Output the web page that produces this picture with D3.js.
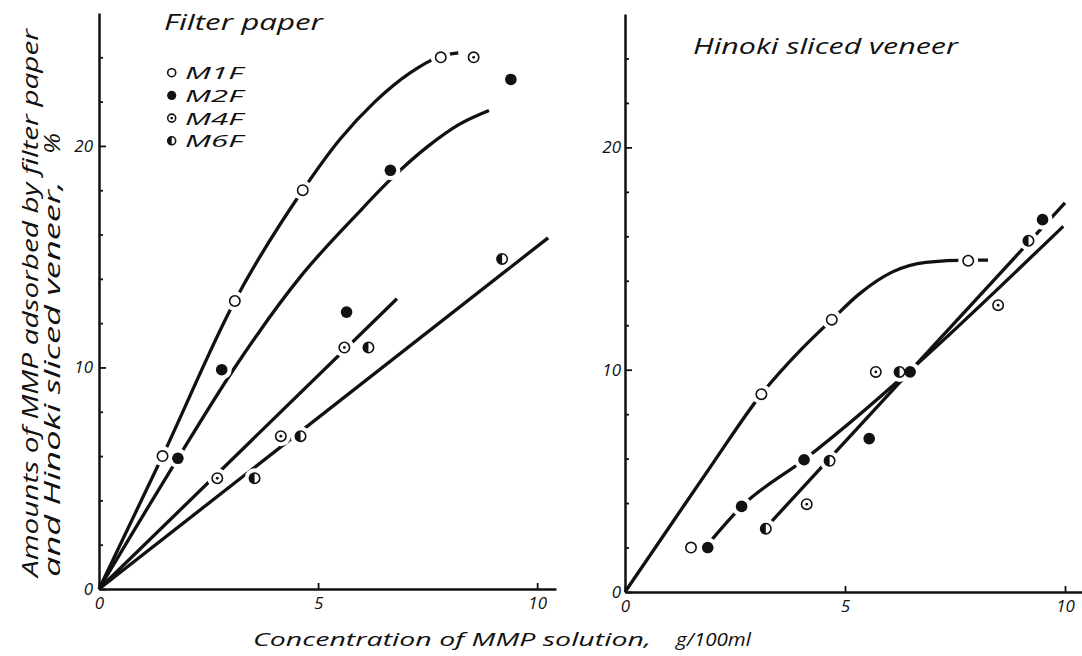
<!DOCTYPE html>
<html>
<head>
<meta charset="utf-8">
<script src="https://cdn.jsdelivr.net/npm/d3@7"></script>
<style>
  html, body { margin: 0; padding: 0; background: #fff; }
  svg { display: block; }
  text { font-family: "Open Sans", "DejaVu Sans", sans-serif; font-style: italic; fill: #111; }
</style>
</head>
<body>
<svg id="chart" width="1082" height="656"></svg>
<script>
// ---------------- DATA ----------------
const seriesNames = ["M1F", "M2F", "M4F", "M6F"];
const markerTypes = ["open", "filled", "dotted", "half"];

const xTicksMajor = [0, 5, 10];
const yTicksMajor = [0, 10, 20];
const yTicksMinor = [2, 4, 6, 8, 12, 14, 16, 18, 22, 24];

// Filter paper: measured points [concentration, amount]
const paperM1F = [[1.45, 6.0], [3.1, 13.0], [4.65, 18.0], [7.8, 24.0]];
const paperM2F = [[1.8, 5.9], [2.8, 9.9], [5.65, 12.5], [6.65, 18.9], [9.4, 23.0]];
const paperM4F = [[2.7, 5.0], [4.15, 6.9], [5.6, 10.9], [8.55, 24.0]];
const paperM6F = [[3.55, 5.0], [4.6, 6.9], [6.15, 10.9], [9.2, 14.9]];

// Filter paper: drawn curves
const paperCurveM1F = [[0, 0], [1.45, 6.0], [3.1, 13.0], [4.65, 18.0], [5.5, 20.3], [6.3, 22.0], [7.1, 23.3], [7.8, 24.05], [8.2, 24.2]];
const paperCurveM2F = [[0, 0], [1.8, 5.9], [3.1, 10.0], [4.64, 14.2], [5.88, 16.9], [6.66, 18.5], [7.52, 20.0], [8.2, 20.95], [8.9, 21.6]];
const paperLineM4F = [[0, 0], [6.8, 13.1]];
const paperLineM6F = [[0, 0], [10.25, 15.85]];

// Hinoki sliced veneer: measured points
const veneerM1F = [[1.5, 2.0], [3.1, 8.9], [4.7, 12.25], [7.8, 14.9]];
const veneerM2F = [[1.88, 2.0], [2.65, 3.85], [4.07, 5.95], [5.55, 6.9], [6.48, 9.9], [9.49, 16.75]];
const veneerM4F = [[4.13, 3.95], [5.7, 9.9], [8.48, 12.9]];
const veneerM6F = [[3.2, 2.85], [4.65, 5.9], [6.24, 9.9], [9.17, 15.8]];

// Hinoki sliced veneer: drawn curves
const veneerCurveM1F = [[0, 0], [1, 2.9], [2, 5.8], [3.1, 8.9], [4.0, 10.9], [4.7, 12.25], [5.32, 13.4], [6.08, 14.4], [6.84, 14.83], [7.8, 14.93], [8.25, 14.93]];
const veneerLineA = [[1.95, 2.3], [2.65, 3.85], [4.07, 5.95], [9.96, 16.45]];
const veneerLineB = [[3.25, 3.0], [10.0, 17.5]];

// Texts
const yTitle1 = "Amounts of MMP adsorbed by filter paper";
const yTitle2 = "and Hinoki sliced veneer,";
const yTitleUnit = "%";
const xTitle1 = "Concentration of MMP solution,";
const xTitle2 = "g/100ml";
const panelTitles = ["Filter paper", "Hinoki sliced veneer"];

// ---------------- DRAW ----------------
const svg = d3.select("#chart");
svg.append("rect").attr("width", 1082).attr("height", 656).attr("fill", "#fff");

const panels = [
  {
    x: d3.scaleLinear().domain([0, 10.43]).range([99, 556]),
    y: d3.scaleLinear().domain([0, 26]).range([589, 13]),
    points: [paperM1F, paperM2F, paperM4F, paperM6F],
    curves: [
      { pts: paperCurveM1F, smooth: true },
      { pts: paperCurveM2F, smooth: true },
      { pts: paperLineM4F, smooth: false },
      { pts: paperLineM6F, smooth: false }
    ],
    labelPad: 6,
    title: { text: panelTitles[0], x: 164, y: 30, len: 159 }
  },
  {
    x: d3.scaleLinear().domain([0, 10.4]).range([625, 1082.6]),
    y: d3.scaleLinear().domain([0, 26]).range([592, 14]),
    points: [veneerM1F, veneerM2F, veneerM4F, veneerM6F],
    curves: [
      { pts: veneerCurveM1F, smooth: true },
      { pts: veneerLineA, smooth: true },
      { pts: veneerLineB, smooth: false }
    ],
    labelPad: 4,
    title: { text: panelTitles[1], x: 693, y: 54, len: 265 }
  }
];

function drawMarker(g, type, cx, cy, r) {
  if (type === "filled") {
    g.append("circle").attr("cx", cx).attr("cy", cy).attr("r", r + 0.6).attr("fill", "#111");
    return;
  }
  g.append("circle").attr("cx", cx).attr("cy", cy).attr("r", r)
    .attr("fill", "#fff").attr("stroke", "#111").attr("stroke-width", 1.6);
  if (type === "dotted") {
    g.append("circle").attr("cx", cx).attr("cy", cy).attr("r", 1.4).attr("fill", "#111");
  } else if (type === "half") {
    g.append("path")
      .attr("d", `M${cx},${cy - r}A${r},${r} 0 0 0 ${cx},${cy + r}Z`)
      .attr("fill", "#111");
  }
}

panels.forEach(p => {
  const g = svg.append("g");

  // Axes
  const yAxisMajor = d3.axisLeft(p.y).tickValues(yTicksMajor).tickSizeInner(-7).tickSizeOuter(0)
    .tickPadding(p.labelPad).tickFormat(d3.format("d"));
  const yAxisMinor = d3.axisLeft(p.y).tickValues(yTicksMinor).tickSizeInner(-4).tickSizeOuter(0)
    .tickFormat("");
  const xAxis = d3.axisBottom(p.x).tickValues(xTicksMajor).tickSizeInner(-6).tickSizeOuter(0)
    .tickPadding(8).tickFormat(d3.format("d"));

  const y0 = p.y(0), x0 = p.x(0);
  const gy = g.append("g").attr("transform", `translate(${x0},0)`).call(yAxisMajor);
  const gym = g.append("g").attr("transform", `translate(${x0},0)`).call(yAxisMinor);
  gym.select(".domain").remove();
  const gx = g.append("g").attr("transform", `translate(0,${y0})`).call(xAxis);

  [gy, gym, gx].forEach(a => {
    a.selectAll(".domain").attr("stroke", "#111").attr("stroke-width", 2.5);
    a.selectAll(".tick line").attr("stroke", "#111").attr("stroke-width", 1.8);
    a.selectAll("text").attr("font-size", 17).attr("fill", "#111")
      .attr("font-family", "'Open Sans', 'DejaVu Sans', sans-serif").attr("font-style", "italic");
  });

  // Curves
  p.curves.forEach(c => {
    const line = d3.line()
      .x(d => p.x(d[0])).y(d => p.y(d[1]))
      .curve(c.smooth ? d3.curveMonotoneX : d3.curveLinear);
    g.append("path").datum(c.pts).attr("d", line)
      .attr("fill", "none").attr("stroke", "#111").attr("stroke-width", 3.3)
      .attr("stroke-linecap", "butt");
  });

  // Gaps (white halos) where curves meet the plotted symbols
  p.points.forEach(arr => {
    arr.forEach(d => {
      g.append("circle").attr("cx", p.x(d[0])).attr("cy", p.y(d[1])).attr("r", 10).attr("fill", "#fff");
    });
  });

  // Markers
  p.points.forEach((arr, i) => {
    arr.forEach(d => drawMarker(g, markerTypes[i], p.x(d[0]), p.y(d[1]), 5.2));
  });

  // Panel title
  svg.append("text").attr("x", p.title.x).attr("y", p.title.y)
    .attr("font-size", 21).attr("textLength", p.title.len).attr("lengthAdjust", "spacingAndGlyphs")
    .text(p.title.text);
});

// Legend
const legend = svg.append("g");
const legendY = [72.7, 95.4, 118.1, 140.8];
seriesNames.forEach((name, i) => {
  drawMarker(legend, markerTypes[i], 171.7, legendY[i], 4);
  legend.append("text").attr("x", 185).attr("y", legendY[i] + 6.5)
    .attr("font-family", "'Liberation Sans', sans-serif")
    .attr("font-size", 17).attr("textLength", 58).attr("lengthAdjust", "spacingAndGlyphs")
    .text(name);
});

// Y title (rotated)
svg.append("text").attr("transform", "translate(38,577) rotate(-90)")
  .attr("font-size", 22).attr("textLength", 548).attr("lengthAdjust", "spacingAndGlyphs")
  .text(yTitle1);
svg.append("text").attr("transform", "translate(60,577) rotate(-90)")
  .attr("font-size", 22).attr("textLength", 396).attr("lengthAdjust", "spacingAndGlyphs")
  .text(yTitle2);
svg.append("text").attr("transform", "translate(60,154) rotate(-90)")
  .attr("font-size", 22).attr("textLength", 21).attr("lengthAdjust", "spacingAndGlyphs")
  .text(yTitleUnit);

// X title
svg.append("text").attr("x", 253).attr("y", 646)
  .attr("font-size", 19).attr("textLength", 398).attr("lengthAdjust", "spacingAndGlyphs")
  .text(xTitle1);
svg.append("text").attr("x", 676).attr("y", 646)
  .attr("font-size", 19).attr("textLength", 75).attr("lengthAdjust", "spacingAndGlyphs")
  .text(xTitle2);
</script>
</body>
</html>
